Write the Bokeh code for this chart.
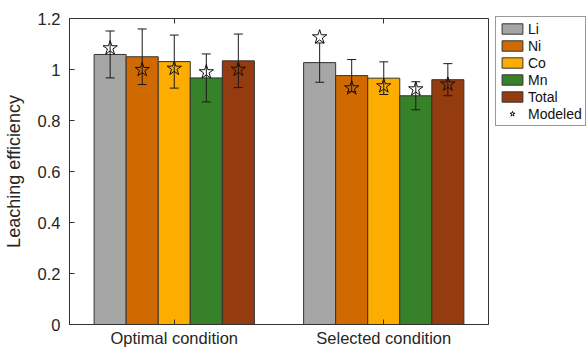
from bokeh.plotting import figure
from bokeh.models import (ColumnDataSource, FactorRange, Range1d, FixedTicker, Whisker, TeeHead,
                          Legend, LegendItem, CategoricalAxis)
from bokeh.transform import dodge
from bokeh.embed import file_html
from bokeh.resources import INLINE

conditions = ["Optimal condition", "Selected condition"]
series = ["Li", "Ni", "Co", "Mn", "Total"]
colors = ["#a6a6a6", "#d06a00", "#fdad00", "#37812b", "#943b0f"]

Li_val = [1.059, 1.027]
Ni_val = [1.050, 0.976]
Co_val = [1.031, 0.966]
Mn_val = [0.967, 0.897]
Total_val = [1.034, 0.960]

Li_err = [0.092, 0.077]
Ni_err = [0.109, 0.063]
Co_err = [0.104, 0.064]
Mn_err = [0.094, 0.055]
Total_err = [0.105, 0.063]

Li_model = [1.084, 1.127]
Ni_model = [0.999, 0.927]
Co_model = [1.004, 0.935]
Mn_model = [0.990, 0.923]
Total_model = [1.000, 0.942]

y_ticks = [0, 0.2, 0.4, 0.6, 0.8, 1.0, 1.2]
y_tick_labels = ["0", "0.2", "0.4", "0.6", "0.8", "1", "1.2"]

vals = [Li_val, Ni_val, Co_val, Mn_val, Total_val]
errs = [Li_err, Ni_err, Co_err, Mn_err, Total_err]
models = [Li_model, Ni_model, Co_model, Mn_model, Total_model]

bar_w = 0.153
offsets = [(i - 2) * bar_w for i in range(5)]

FONT = "Liberation Sans"
TXT = "#262626"
EDGE = "#333333"

p = figure(x_range=FactorRange(*conditions), y_range=Range1d(0, 1.2),
           frame_width=419, frame_height=306, output_backend="svg", toolbar_location=None,
           min_border_left=67, min_border_top=18, min_border_right=0, min_border_bottom=23)
p.xgrid.visible = False
p.ygrid.visible = False
p.outline_line_color = EDGE
p.outline_line_width = 1

# axes
p.yaxis.ticker = FixedTicker(ticks=y_ticks)
p.yaxis.major_label_overrides = {t: l for t, l in zip(y_ticks, y_tick_labels)}
p.yaxis.axis_label = "Leaching efficiency"
for ax in [p.xaxis[0], p.yaxis[0]]:
    ax.major_tick_in = 5
    ax.major_tick_out = 0
    ax.minor_tick_in = 0
    ax.minor_tick_out = 0
    ax.axis_line_color = EDGE
    ax.major_tick_line_color = EDGE
    ax.major_label_text_font = FONT
    ax.major_label_text_font_size = "16.5px"
    ax.major_label_text_color = TXT
    ax.axis_label_text_font = FONT
    ax.axis_label_text_font_style = "normal"
    ax.axis_label_text_font_size = "18px"
    ax.axis_label_text_color = TXT
p.xaxis.major_label_standoff = 4
p.yaxis.major_label_standoff = 9
p.yaxis.axis_label_standoff = 11

top_ax = CategoricalAxis(major_tick_in=5, major_tick_out=0, major_label_text_color=None,
                         major_label_text_font_size="6px", major_label_standoff=0,
                         axis_line_color=None, major_tick_line_color=EDGE)
p.add_layout(top_ax, "above")

items = []
for name, col, v, e, off in zip(series, colors, vals, errs, offsets):
    src = ColumnDataSource(dict(cond=conditions, val=v,
                                upper=[a + b for a, b in zip(v, e)],
                                lower=[a - b for a, b in zip(v, e)]))
    r = p.vbar(x=dodge("cond", off, range=p.x_range), top="val", width=bar_w, source=src,
               fill_color=col, line_color=EDGE, line_width=1)
    items.append(LegendItem(label=name, renderers=[r]))
    w = Whisker(base=dodge("cond", off, range=p.x_range), upper="upper", lower="lower", source=src,
                line_color="#1a1a1a", line_width=1, level="annotation",
                upper_head=TeeHead(size=9, line_color="#1a1a1a", line_width=1),
                lower_head=TeeHead(size=9, line_color="#1a1a1a", line_width=1))
    p.add_layout(w)

star_rs = []
for m, off in zip(models, offsets):
    src = ColumnDataSource(dict(cond=conditions, model=m))
    s = p.scatter(x=dodge("cond", off, range=p.x_range), y="model", source=src, marker="star",
                  size=15, fill_color=None, line_color="#111111", line_width=1, level="overlay")
    star_rs.append(s)
items.append(LegendItem(label="Modeled", renderers=[star_rs[0]]))

legend = Legend(items=items, location=(7, 198), margin=0, padding=3, spacing=0,
                label_text_font=FONT, label_text_font_size="14px", label_text_color="#111111",
                label_height=17, glyph_height=13, glyph_width=26, label_standoff=3,
                border_line_color=EDGE, border_line_width=1, background_fill_alpha=1)
p.add_layout(legend, "right")

open("out.html", "w").write(file_html(p, INLINE))
